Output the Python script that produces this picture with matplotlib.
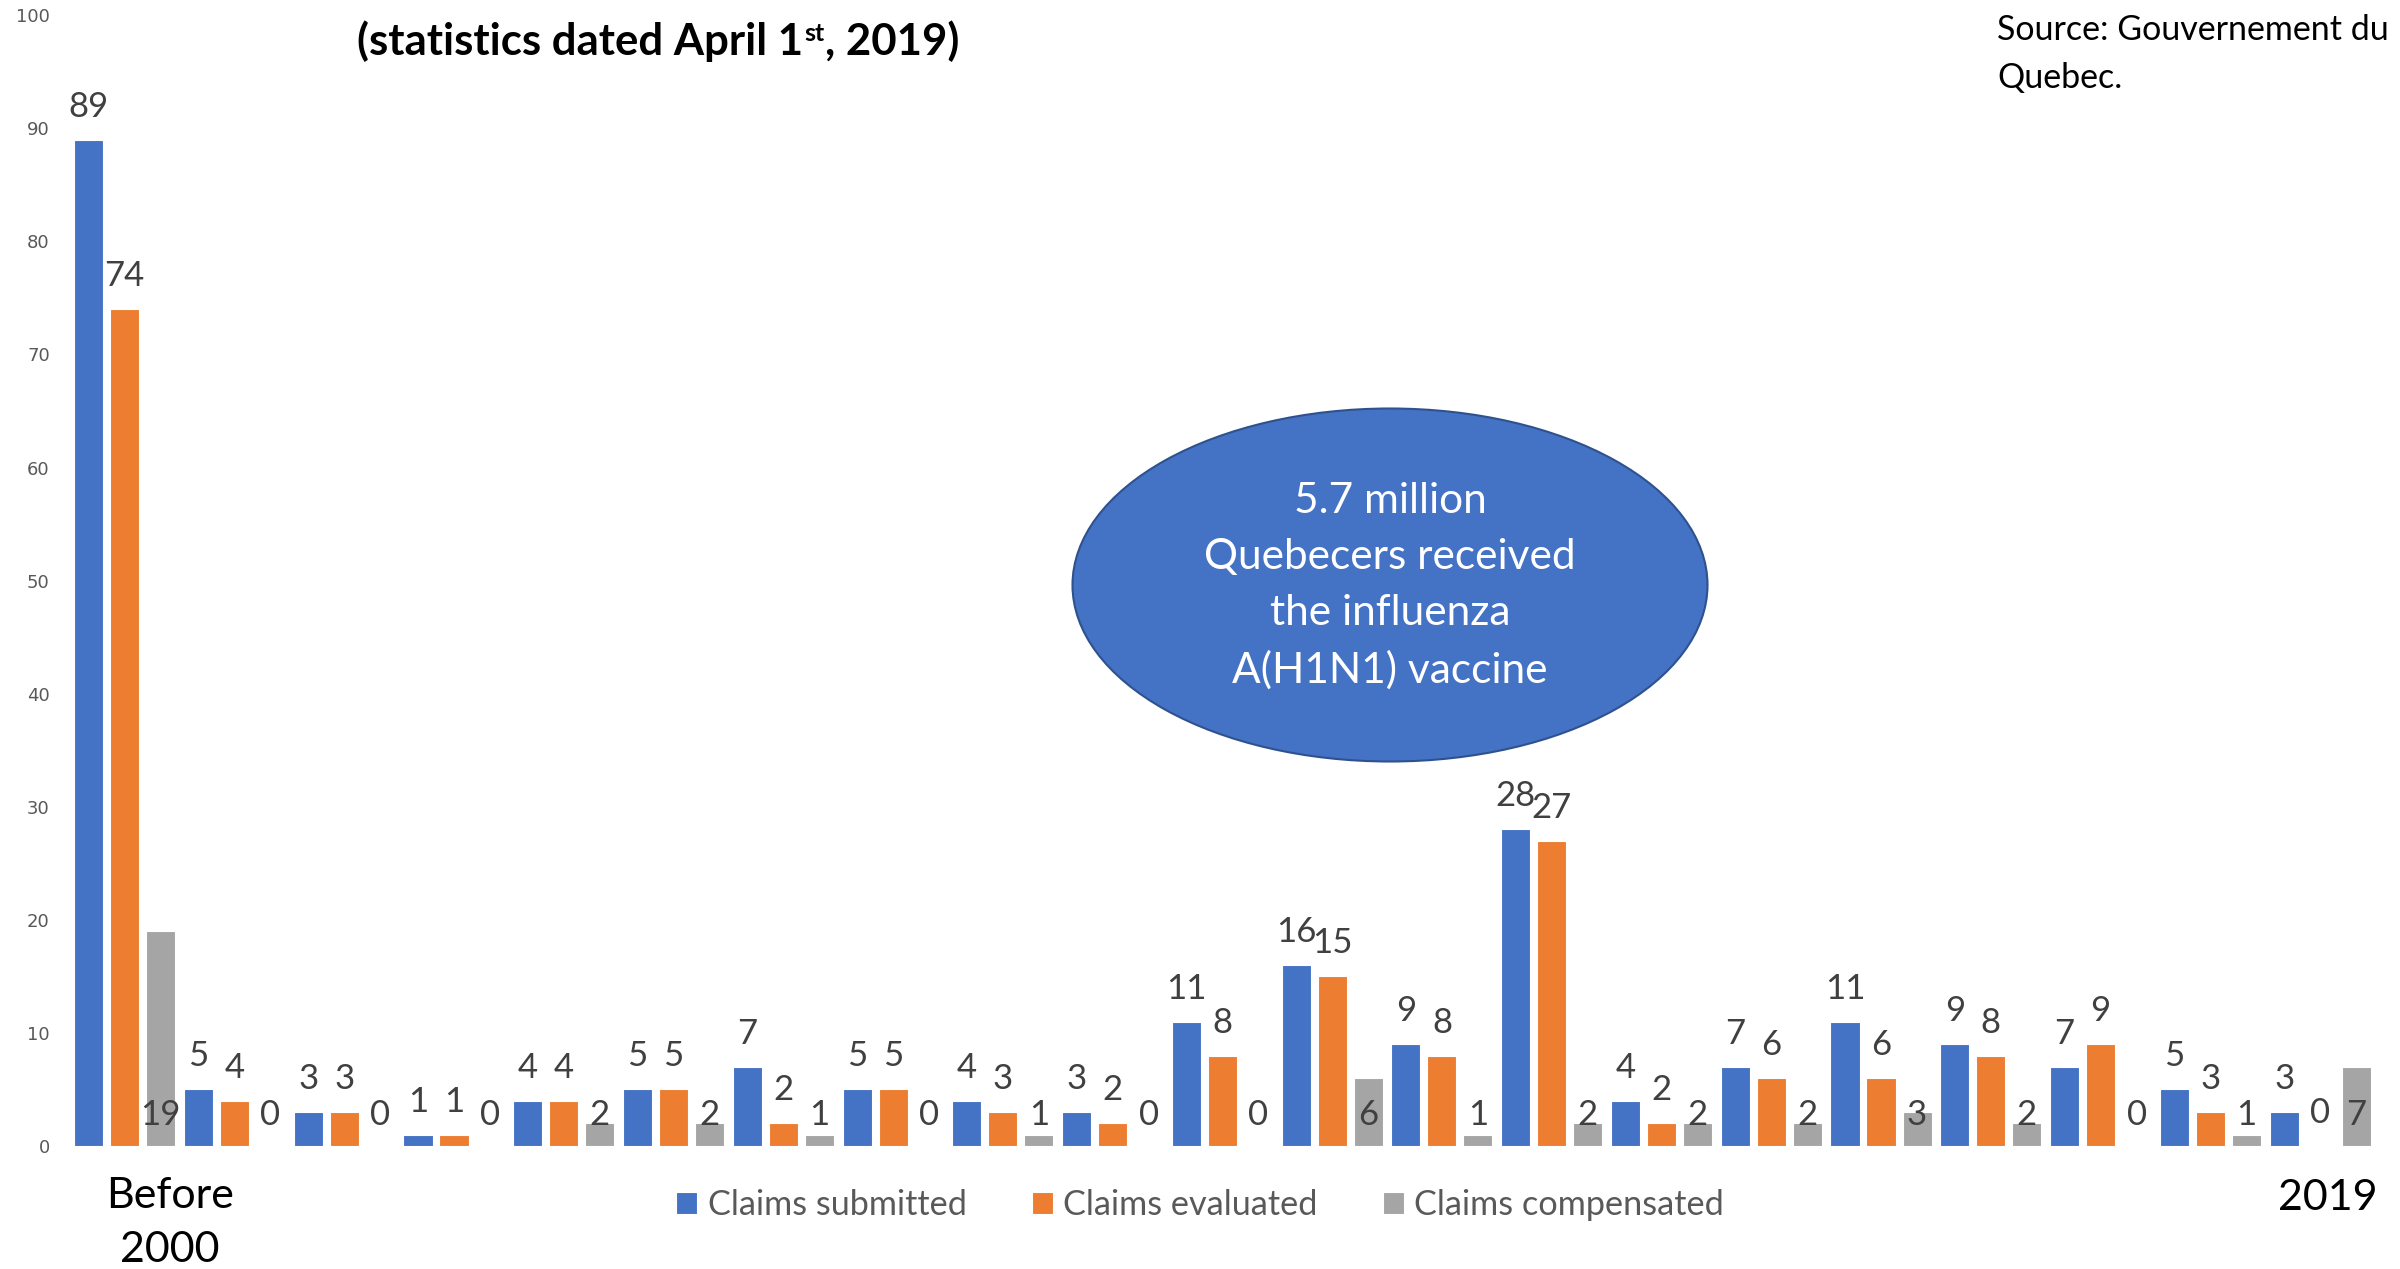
import numpy as np
import matplotlib
matplotlib.use("Agg")
import matplotlib.pyplot as plt
from matplotlib.patches import Ellipse
import matplotlib.transforms as mtransforms

# values, one group per year (Before 2000, 2000 ... 2019)
submitted = [89, 5, 3, 1, 4, 5, 7, 5, 4, 3, 11, 16, 9, 28, 4, 7, 11, 9, 7, 5, 3]
evaluated = [74, 4, 3, 1, 4, 5, 2, 5, 3, 2, 8, 15, 8, 27, 2, 6, 6, 8, 9, 3, 0]
compensated = [19, 0, 0, 0, 2, 2, 1, 0, 1, 0, 0, 6, 1, 2, 2, 2, 3, 2, 0, 1, 7]
series_names = ["Claims submitted", "Claims evaluated", "Claims compensated"]
colors = ["#4472C4", "#ED7D31", "#A5A5A5"]
yticks = list(range(0, 101, 10))

W, H = 2400, 1269
fig = plt.figure(figsize=(W / 100, H / 100), dpi=100)
ax = fig.add_axes([58.8 / W, 0.0969, (2386 - 58.8) / W, 0.988 - 0.0969])

x = np.arange(len(submitted))
bw = 0.265
off = 0.328
lab_font = "Lato"
lab_col = "#404040"

for i, (vals, c) in enumerate(zip([submitted, evaluated, compensated], colors)):
    xs = x + (i - 1) * off
    ax.bar(xs, vals, width=bw, color=c, edgecolor="white", linewidth=0.8,
           label=series_names[i], zorder=2)
    for xx, v in zip(xs, vals):
        if i < 2:
            ax.annotate(str(v), (xx, v), xytext=(0, 33), textcoords="offset pixels",
                        ha="center", va="center", fontsize=25, color=lab_col,
                        family=lab_font, zorder=3)
        else:
            # gray labels sit at the base of the bar
            ax.annotate(str(v), (xx, 0), xytext=(0, 31), textcoords="offset pixels",
                        ha="center", va="center", fontsize=25, color=lab_col,
                        family=lab_font, zorder=3)

ax.set_xlim(-0.6, 20.6)
ax.set_ylim(0, 100)
ax.set_yticks(yticks)
ax.set_xticks([])
ax.tick_params(axis="y", length=0, pad=6.5, labelsize=13, labelcolor="#595959")
for s in ax.spines.values():
    s.set_visible(False)

# category labels under the axis
bt = mtransforms.blended_transform_factory(ax.transData, fig.transFigure)
ax.text(0.41, 1 - 1196 / H, "Before", transform=bt, ha="center", va="center",
        fontsize=31, family=lab_font, color="black")
ax.text(0.41, 1 - 1250 / H, "2000", transform=bt, ha="center", va="center",
        fontsize=31, family=lab_font, color="black")
ax.text(20.07, 1 - 1198 / H, "2019", transform=bt, ha="center", va="center",
        fontsize=31, family=lab_font, color="black")

# legend
fig.legend(loc="center", bbox_to_anchor=(0.5, 1 - 1205 / H), ncol=3, frameon=False,
           prop={"family": lab_font, "size": 24.7}, labelcolor="#595959",
           handlelength=0.62, handleheight=0.62, handletextpad=0.3, columnspacing=1.9)

# title (second line, the first one is cut off at the top)
t1 = fig.text(357 / W, 1 - 62 / H, "(statistics dated April 1", fontsize=31.5,
              fontweight="bold", family=lab_font, va="bottom", ha="left")
t2 = plt.annotate("st", xy=(1, 1), xycoords=t1, xytext=(1, -2), textcoords="offset pixels",
                  fontsize=18, fontweight="bold", family=lab_font, va="top", ha="left",
                  annotation_clip=False)
t3 = plt.annotate(", 2019)", xy=(1, 0), xycoords=(t2, t1), xytext=(1, 0),
                  textcoords="offset pixels", fontsize=31.5, fontweight="bold",
                  family=lab_font, va="bottom", ha="left", annotation_clip=False)

# source note
fig.text(1997 / W, 1 - 14 / H, "Source: Gouvernement du\nQuebec.", fontsize=24.5,
         family=lab_font, va="top", ha="left", linespacing=1.6, color="black")

# ellipse callout
ell = Ellipse((1390 / W, 1 - 585 / H), 635 / W, 353 / H, transform=fig.transFigure,
              facecolor="#4472C4", edgecolor="#2F528F", linewidth=1.5, zorder=5)
fig.patches.append(ell)
fig.text(1390 / W, 1 - 586 / H, "5.7 million\nQuebecers received\nthe influenza\nA(H1N1) vaccine",
         ha="center", va="center", fontsize=30.5, family=lab_font, color="white",
         linespacing=1.58, zorder=6)

fig.savefig("out.png", dpi=100)
